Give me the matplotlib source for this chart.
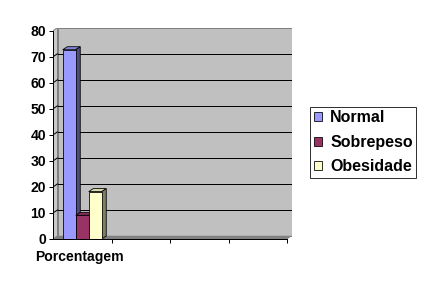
import matplotlib
matplotlib.use("Agg")
import matplotlib.pyplot as plt
from matplotlib.patches import Polygon
import matplotlib.colors as mcolors
import numpy as np

# ---- data ----
categories = ["Porcentagem", "", "", ""]
series_names = ["Normal", "Sobrepeso", "Obesidade"]
series_values = [72.7, 9.1, 18.2]
series_colors = ["#9999FF", "#993366", "#FFFFCC"]
y_ticks = [0, 10, 20, 30, 40, 50, 60, 70, 80]

plt.rcParams['font.family'] = ['Liberation Sans', 'DejaVu Sans']
plt.rcParams['font.weight'] = 'bold'
FS = 14
LFS = 16

fig = plt.figure(figsize=(6, 4), dpi=72)
fig.patch.set_facecolor("white")

ncat = len(categories)
ymax = 80
ddx = 4.5 / 58.5      # depth offset in category units
ddy = 3.0 / 2.604     # depth offset in value units

ax = fig.add_axes([53 / 432, (288 - 239) / 288, (291.5 - 53) / 432, (239 - 27.7) / 288])
ax.set_xlim(0, ncat + ddx)
ax.set_ylim(0, ymax + ddy)
for s in ax.spines.values():
    s.set_visible(False)
ax.set_facecolor("none")

# walls
back = Polygon([(ddx, ddy), (ncat + ddx, ddy), (ncat + ddx, ymax + ddy), (ddx, ymax + ddy)],
               closed=True, facecolor="#C0C0C0", edgecolor="#808080", lw=1, zorder=0)
ax.add_patch(back)
side = Polygon([(0, 0), (ddx, ddy), (ddx, ymax + ddy), (0, ymax)],
               closed=True, facecolor="#C8C8C8", edgecolor="#808080", lw=1, zorder=0)
ax.add_patch(side)
floor = Polygon([(0, 0), (ncat, 0), (ncat + ddx, ddy), (ddx, ddy)],
                closed=True, facecolor="#808080", edgecolor="#808080", lw=0.5, zorder=0.5)
ax.add_patch(floor)

# gridlines on back wall and left wall
for v in y_ticks[1:-1]:
    ax.plot([ddx, ncat + ddx], [v + ddy, v + ddy], color="black", lw=1, zorder=0.6)
    ax.plot([0, ddx], [v, v + ddy], color="black", lw=1, zorder=0.6)

# bars
nser = len(series_values)
gap = 1.5
bw = 1.0 / (nser + gap)
start = gap * bw / 2
z = 2
for i, (name, val, col) in enumerate(zip(series_names, series_values, series_colors)):
    x0 = start + i * bw
    rgb = np.array(mcolors.to_rgb(col))
    ax.bar(x0, val, width=bw, align="edge", color=col, edgecolor="black", lw=0.8,
           label=name, zorder=z + 1)
    top = Polygon([(x0, val), (x0 + bw, val), (x0 + bw + ddx, val + ddy), (x0 + ddx, val + ddy)],
                  closed=True, facecolor=rgb * 0.85, edgecolor="black", lw=0.8, zorder=z)
    sideface = Polygon([(x0 + bw, 0), (x0 + bw + ddx, ddy), (x0 + bw + ddx, val + ddy), (x0 + bw, val)],
                       closed=True, facecolor=rgb * 0.5, edgecolor="black", lw=0.8, zorder=z)
    ax.add_patch(top)
    ax.add_patch(sideface)
    z += 3

# axes lines
ax.plot([0, 0], [0, ymax], color="black", lw=1, zorder=20, clip_on=False)
ax.plot([0, ncat], [0, 0], color="black", lw=1, zorder=20, clip_on=False)

ax.set_yticks(y_ticks)
ax.set_yticklabels([str(t) for t in y_ticks], fontsize=FS, fontweight="bold")
ax.tick_params(axis="y", direction="out", length=4, width=1, pad=3, left=True)
ax.set_xticks(np.arange(1, ncat + 1))
ax.set_xticklabels([""] * ncat)
ax.tick_params(axis="x", direction="out", length=4, width=1)
for i, c in enumerate(categories):
    if c:
        ax.text(i + 0.45, -4.2, c, ha="center", va="top", fontsize=FS, fontweight="bold")

leg = fig.legend(loc="upper left", bbox_to_anchor=(310 / 432, (288 - 106.7) / 288),
                 prop={"size": LFS, "weight": "bold"}, frameon=True, fancybox=False,
                 edgecolor="black", handlelength=0.5, handleheight=0.5, handletextpad=0.55,
                 labelspacing=0.6, borderpad=0.22, borderaxespad=0)
leg.get_frame().set_linewidth(1)

fig.savefig("out.png", dpi=72)
